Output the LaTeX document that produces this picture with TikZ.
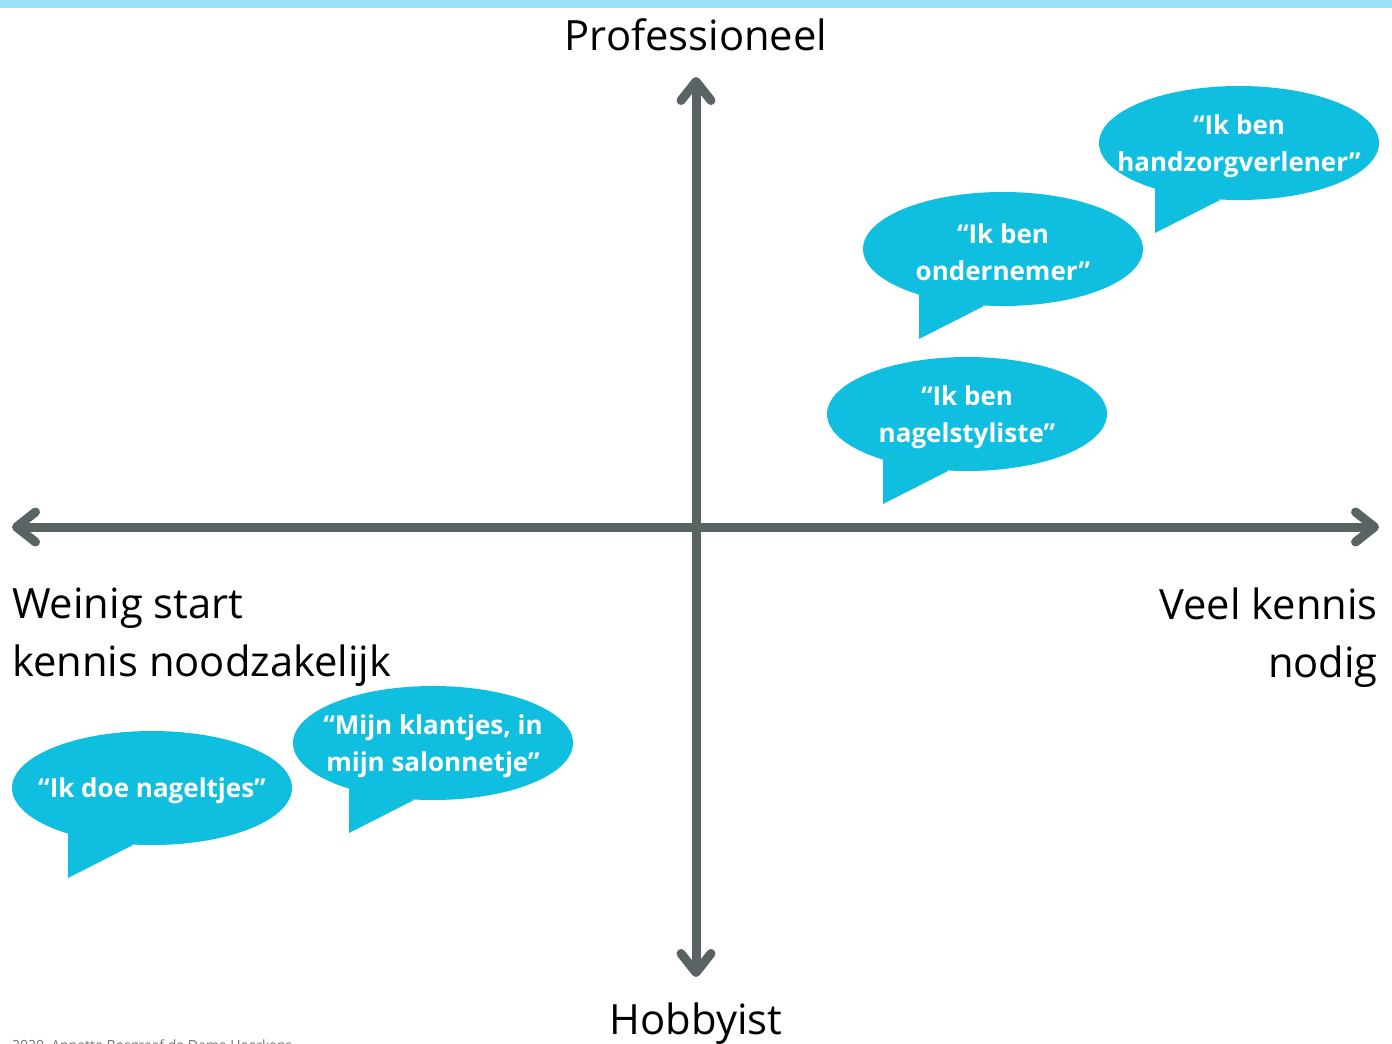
\documentclass[tikz,border=0pt]{standalone}
\usepackage{fontspec}
\setmainfont{Open Sans}
\usetikzlibrary{arrows.meta,backgrounds}

\definecolor{asgrijs}{HTML}{5A6363}
\definecolor{ballonblauw}{HTML}{10BFDF}
\definecolor{balkblauw}{HTML}{9DE1F6}

\tikzset{
  as/.style={line width=9pt, draw=asgrijs,
    {Straight Barb[length=19pt,width=30pt,round]}-{Straight Barb[length=19pt,width=30pt,round]}},
  ballontekst/.style={inner sep=0pt, text=white, align=center,
    font=\fontsize{26}{37}\selectfont\bfseries},
  astekst/.style={font=\fontsize{41.7}{58}\selectfont, inner sep=0pt}
}

% ellips met staartje achter de tekst
\newcommand{\ballon}[1]{%
  \begin{scope}[on background layer, shift={(#1.center)}]
    \fill[ballonblauw] (0,-3) ellipse [x radius=140, y radius=57];
    \fill[ballonblauw] (-84,12) -- (-84,87) -- (-19,54) -- cycle;
  \end{scope}}

\begin{document}
\begin{tikzpicture}[x=1pt,y=-1pt]
    \useasboundingbox (0,0) rectangle (1392,1044);

    % balk bovenaan
    \fill[balkblauw] (0,0) rectangle (1392,8);

    % assen
    \coordinate (links) at (12,527);
    \coordinate (rechts) at (1379,527);
    \coordinate (boven) at (696,77);
    \coordinate (onder) at (696,977);
    \draw[as] (links) -- (rechts);
    \draw[as] (onder) -- (boven);

    % labels bij de assen
    \node[astekst, anchor=base] (prof) at (696,50) {Professioneel};
    \node[astekst, anchor=base] (hobby) at (696,1034) {Hobbyist};
    \node[astekst, anchor=north west, align=left] (weinig) at (12,588)
        {Weinig start\\kennis noodzakelijk};
    \node[astekst, anchor=north east, align=right] (veel) at (1378,588)
        {Veel kennis\\nodig};

    % ballonnen
    \node[ballontekst] (hand) at (1239,146) {“Ik ben\\handzorgverlener”};
    \node[ballontekst] (onderneming) at (1003,252) {“Ik ben\\ondernemer”};
    \node[ballontekst] (styliste) at (967,417) {“Ik ben\\nagelstyliste”};
    \node[ballontekst] (salon) at (433,746) {“Mijn klantjes, in\\mijn salonnetje”};
    \node[ballontekst] (nageltjes) at (152,791) {“Ik doe nageltjes”};
    \ballon{hand}
    \ballon{onderneming}
    \ballon{styliste}
    \ballon{salon}
    \ballon{nageltjes}

    % voetregel (valt half buiten beeld)
    \node[anchor=base west, inner sep=0pt, text=black!55,
        font=\fontsize{14}{14}\selectfont] (voet) at (12,1050)
        {2020, Annette Bosgraaf de Dame Heerkens};
\end{tikzpicture}
\end{document}
